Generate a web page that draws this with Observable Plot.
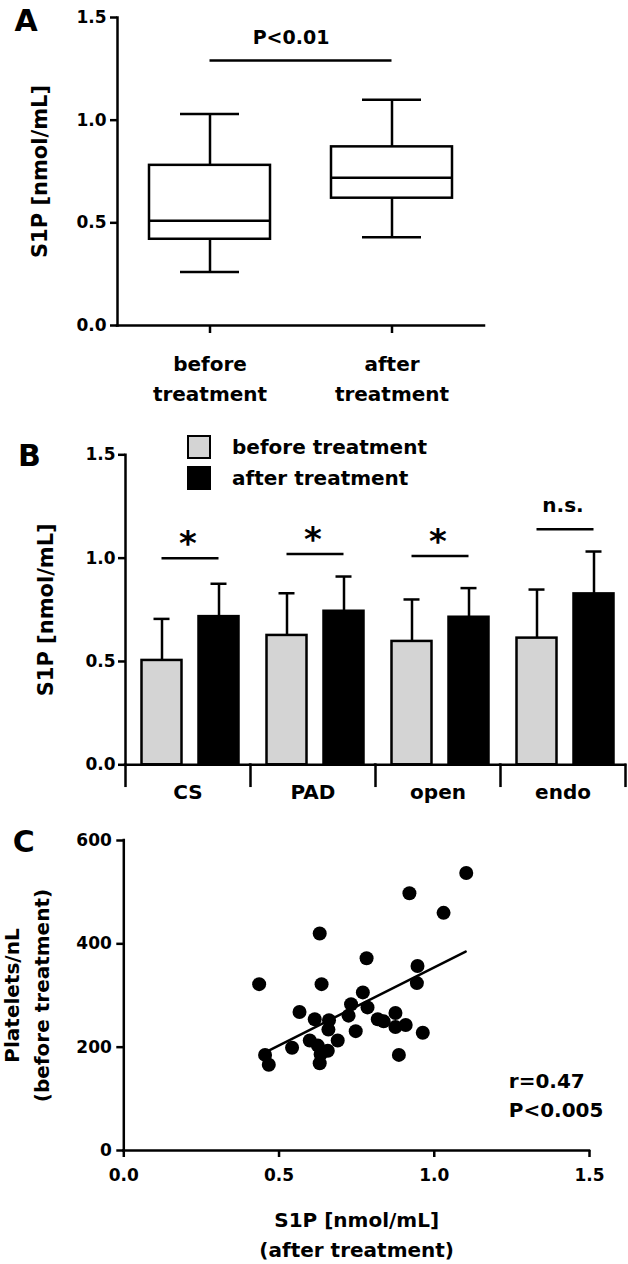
<!DOCTYPE html>
<html><head><meta charset="utf-8">
<script src="https://cdn.jsdelivr.net/npm/d3@7"></script>
<script src="https://cdn.jsdelivr.net/npm/@observablehq/plot@0.6"></script>
<style>
 body{margin:0;background:#fff}
 #fig{position:relative;width:628px;height:1264px;font-family:'DejaVu Sans',sans-serif;font-weight:bold;color:#000}
 #fig svg{display:block}
 .legend{position:absolute;left:187px;top:431.5px}
 .row{display:flex;align-items:center;height:31px;font-size:20px;white-space:nowrap}
 .sw{width:24px;height:24px;box-sizing:border-box;margin-right:21px}
</style></head>
<body><div id="fig"></div>
<script>
// ---------- Panel A: box plot ----------
const boxGroups = ["before treatment", "after treatment"];
const boxTickLabels = ["before\ntreatment", "after\ntreatment"];
const boxMin = [0.26, 0.43];
const boxQ1 = [0.42, 0.62];
const boxMedian = [0.51, 0.72];
const boxQ3 = [0.78, 0.87];
const boxMax = [1.03, 1.10];
const sigA = {y: 1.29, label: "P<0.01", from: "before treatment", to: "after treatment"};
const yTicks = [0, 0.5, 1.0, 1.5];

// ---------- Panel B: grouped bars ----------
const groups = ["CS", "PAD", "open", "endo"];
const treatments = ["before treatment", "after treatment"];
const meanBefore = [0.505, 0.626, 0.597, 0.613];
const sdBefore = [0.201, 0.204, 0.203, 0.235];
const meanAfter = [0.717, 0.743, 0.714, 0.827];
const sdAfter = [0.159, 0.168, 0.141, 0.205];
const sigHeights = [1.00, 1.02, 1.01, 1.14];
const sigLabels = ["*", "*", "*", "n.s."];
const barColors = ["#d4d4d4", "#000000"];

// ---------- Panel C: scatter ----------
const s1p = [1.103, 0.920, 1.030, 0.631, 0.782, 0.946, 0.944, 0.436, 0.637, 0.770,
             0.732, 0.785, 0.566, 0.724, 0.875, 0.615, 0.661, 0.818, 0.837, 0.908,
             0.875, 0.659, 0.747, 0.963, 0.689, 0.599, 0.625, 0.542, 0.657, 0.634,
             0.455, 0.886, 0.631, 0.467];
const platelets = [537, 498, 460, 420, 372, 357, 324, 322, 322, 306,
                   283, 277, 268, 261, 266, 254, 252, 254, 250, 243,
                   239, 234, 231, 228, 213, 213, 203, 199, 193, 186,
                   185, 185, 169, 166];
const fitX = [0.462, 1.101];
const fitY = [192, 385];
const statsC = {x: 1.24, y: 64, text: "r=0.47\nP<0.005"};
const xTicksC = [0, 0.5, 1.0, 1.5];
const yTicksC = [0, 200, 400, 600];

const sw = 2.5;
const baseStyle = {fontFamily: "'DejaVu Sans', sans-serif", fontSize: "17px", fontWeight: "bold", color: "black", background: "white", overflow: "visible"};
const fmt1 = d3.format(".1f");
const fig = document.getElementById("fig");

// Panel A
const boxData = boxGroups.map((g, i) => ({group: g, label: boxTickLabels[i], min: boxMin[i], q1: boxQ1[i], median: boxMedian[i], q3: boxQ3[i], max: boxMax[i]}));
const plotA = Plot.plot({
  width: 628, height: 420, marginTop: 17, marginBottom: 95, marginLeft: 117, marginRight: 144,
  style: baseStyle,
  x: {type: "band", domain: boxGroups, paddingInner: 0.337, paddingOuter: 0.174, axis: null},
  y: {domain: [0, 1.5], axis: null},
  marks: [
    Plot.ruleX(boxData, {x: "group", y1: "min", y2: "q1", strokeWidth: sw}),
    Plot.ruleX(boxData, {x: "group", y1: "q3", y2: "max", strokeWidth: sw}),
    Plot.tickY(boxData, {x: "group", y: "min", insetLeft: 31, insetRight: 31, strokeWidth: sw}),
    Plot.tickY(boxData, {x: "group", y: "max", insetLeft: 31, insetRight: 31, strokeWidth: sw}),
    Plot.barY(boxData, {x: "group", y1: "q1", y2: "q3", fill: "white", stroke: "black", strokeWidth: sw}),
    Plot.tickY(boxData, {x: "group", y: "median", strokeWidth: sw}),
    Plot.axisY(yTicks, {tickSize: 7, tickPadding: 4, tickFormat: fmt1, strokeWidth: sw, fontSize: 17, label: null}),
    Plot.axisX(boxGroups, {tickSize: 8, tickFormat: () => "", strokeWidth: sw, label: null}),
    Plot.frame({anchor: "left", strokeWidth: sw}),
    Plot.ruleY([0], {strokeWidth: sw, strokeLinecap: "square"}),
    Plot.text(boxData, {x: "group", text: "label", frameAnchor: "bottom", lineAnchor: "bottom", lineHeight: 1.5, dy: 75, fontSize: 20}),
    Plot.ruleY([sigA], {y: "y", x1: "from", x2: "to", insetLeft: 60.5, insetRight: 60.5, strokeWidth: sw}),
    Plot.text([sigA], {y: "y", text: "label", lineAnchor: "middle", dy: -22.5, dx: -10, fontSize: 19}),
    Plot.text(["S1P [nmol/mL]"], {frameAnchor: "left", textAnchor: "middle", lineAnchor: "middle", rotate: -90, dx: -77, fontSize: 21}),
    Plot.text(["A"], {frameAnchor: "top-left", textAnchor: "start", lineAnchor: "bottom", dx: -103, dy: 13, fontSize: 30})
  ]
});
fig.appendChild(plotA);

// Panel B
const barData = groups.flatMap((g, i) => [
  {group: g, treatment: treatments[0], mean: meanBefore[i], upper: meanBefore[i] + sdBefore[i]},
  {group: g, treatment: treatments[1], mean: meanAfter[i], upper: meanAfter[i] + sdAfter[i]}
]);
const sigData = groups.map((g, i) => ({group: g, y: sigHeights[i], label: sigLabels[i], from: treatments[0], to: treatments[1]}));
const plotB = Plot.plot({
  width: 628, height: 400, marginTop: 34.3, marginBottom: 55.7, marginLeft: 123.5, marginRight: 2.5,
  style: baseStyle,
  fx: {domain: groups, padding: 0},
  x: {type: "band", domain: treatments, paddingInner: 0.307, paddingOuter: 0.242, align: 0.566, axis: null},
  y: {domain: [0, 1.5], axis: null},
  color: {domain: treatments, range: barColors},
  marks: [
    Plot.ruleX(barData, {fx: "group", x: "treatment", y1: "mean", y2: "upper", strokeWidth: sw}),
    Plot.tickY(barData, {fx: "group", x: "treatment", y: "upper", insetLeft: 12, insetRight: 12, strokeWidth: sw}),
    Plot.barY(barData, {fx: "group", x: "treatment", y: "mean", fill: "treatment", stroke: "black", strokeWidth: sw}),
    Plot.ruleY([0], {strokeWidth: sw, strokeLinecap: "square"}),
    Plot.frame({anchor: "left", facetAnchor: "left", strokeWidth: sw}),
    Plot.frame({anchor: "left", insetTop: 310, insetBottom: -21, strokeWidth: sw}),
    Plot.frame({anchor: "right", facetAnchor: "right", insetTop: 310, insetBottom: -21, strokeWidth: sw}),
    Plot.axisY(yTicks, {tickSize: 7, tickPadding: 3, tickFormat: fmt1, strokeWidth: sw, fontSize: 17, label: null}),
    Plot.axisFx({anchor: "bottom", tickSize: 0, tickPadding: 20, fontSize: 20, label: null}),
    Plot.ruleY(sigData, {fx: "group", y: "y", x1: "from", x2: "to", insetLeft: 20, insetRight: 20, strokeWidth: sw}),
    Plot.text(sigData.filter(d => d.label === "*"), {fx: "group", y: "y", text: "label", lineAnchor: "middle", dy: -14, fontSize: 34}),
    Plot.text(sigData.filter(d => d.label !== "*"), {fx: "group", y: "y", text: "label", lineAnchor: "middle", dy: -24, fontSize: 20}),
    Plot.text([{group: groups[0], t: "S1P [nmol/mL]"}], {fx: "group", text: "t", frameAnchor: "left", textAnchor: "middle", lineAnchor: "middle", rotate: -90, dx: -79.5, fontSize: 21}),
    Plot.text([{group: groups[0], t: "B"}], {fx: "group", text: "t", frameAnchor: "top-left", textAnchor: "start", lineAnchor: "bottom", dx: -107.5, dy: 10.7, fontSize: 30})
  ]
});
const wrapB = document.createElement("div");
wrapB.style.position = "relative";
wrapB.appendChild(plotB);
fig.appendChild(wrapB);

// Legend for panel B
const legend = document.createElement("div");
legend.className = "legend";
treatments.forEach((t, i) => {
  const row = document.createElement("div");
  row.className = "row";
  const s = document.createElement("span");
  s.className = "sw";
  s.style.background = barColors[i];
  s.style.border = "2.5px solid black";
  const lab = document.createElement("span");
  lab.textContent = t;
  row.appendChild(s); row.appendChild(lab);
  legend.appendChild(row);
});
fig.appendChild(legend);

// Panel C
const pts = s1p.map((x, i) => ({x, y: platelets[i]}));
const fitPts = fitX.map((x, i) => ({x, y: fitY[i]}));
const plotC = Plot.plot({
  width: 628, height: 444, marginTop: 20, marginBottom: 114, marginLeft: 123.3, marginRight: 39,
  style: baseStyle,
  x: {domain: [0, 1.5], axis: null},
  y: {domain: [0, 600], axis: null},
  marks: [
    Plot.ruleX([0], {strokeWidth: sw, strokeLinecap: "square"}),
    Plot.ruleY([0], {strokeWidth: sw, strokeLinecap: "square"}),
    Plot.axisX(xTicksC, {tickSize: 7, tickPadding: 11, tickFormat: fmt1, strokeWidth: sw, fontSize: 17, label: null}),
    Plot.axisY(yTicksC, {tickSize: 7, tickPadding: 5, strokeWidth: sw, fontSize: 17, label: null}),
    Plot.dot(pts, {x: "x", y: "y", r: 7, fill: "black"}),
    Plot.line(fitPts, {x: "x", y: "y", strokeWidth: sw}),
    Plot.text([statsC], {x: "x", y: "y", text: "text", textAnchor: "start", lineAnchor: "bottom", lineHeight: 1.45, fontSize: 20}),
    Plot.text(["Platelets/nL\n(before treatment)"], {frameAnchor: "left", textAnchor: "middle", lineAnchor: "middle", rotate: -90, lineHeight: 1.5, dx: -99, fontSize: 20}),
    Plot.text(["S1P [nmol/mL]\n(after treatment)"], {frameAnchor: "bottom", lineAnchor: "bottom", lineHeight: 1.5, dy: 106, fontSize: 20}),
    Plot.text(["C"], {frameAnchor: "top-left", textAnchor: "start", lineAnchor: "bottom", dx: -111, dy: 11, fontSize: 30})
  ]
});
fig.appendChild(plotC);
</script>
</body></html>
